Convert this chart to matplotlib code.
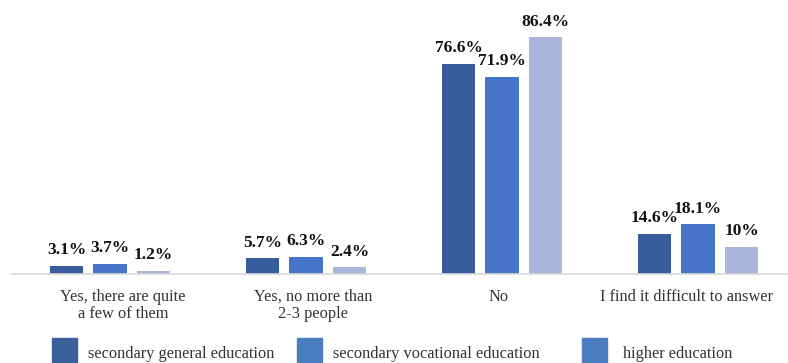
import matplotlib.pyplot as plt
from matplotlib.patches import Rectangle
from matplotlib.transforms import ScaledTranslation
import numpy as np

categories = ['Yes, there are quite\na few of them', 'Yes, no more than\n2-3 people', 'No',
              'I find it difficult to answer']
series_names = ['secondary general education', 'secondary vocational education', 'higher education']
general = [3.1, 5.7, 76.6, 14.6]
vocational = [3.7, 6.3, 71.9, 18.1]
higher = [1.2, 2.4, 86.4, 10.0]
value_labels = [
    ['3.1%', '5.7%', '76.6%', '14.6%'],
    ['3.7%', '6.3%', '71.9%', '18.1%'],
    ['1.2%', '2.4%', '86.4%', '10%'],
]

bar_colors = ['#375d9c', '#4674c8', '#a8b6dc']
legend_colors = ['#3b5f9a', '#4a7ec0', '#4a7ec0']

plt.rcParams['font.family'] = 'Liberation Serif'

fig = plt.figure(figsize=(7.88, 3.63), dpi=100)
ax = fig.add_axes([12 / 788, 89 / 363, 776 / 788, 274 / 363])

x = np.arange(len(categories))
width = 0.173
step = 0.222

for i, values in enumerate([general, vocational, higher]):
    bars = ax.bar(x + (i - 1) * step, values, width, color=bar_colors[i])
    for bar, lab in zip(bars, value_labels[i]):
        ax.annotate(lab, (bar.get_x() + bar.get_width() / 2, bar.get_height()),
                    xytext=(0, 5.5), textcoords='offset points', ha='center', va='bottom',
                    fontsize=12.5, fontweight='bold', color='#111111')

ax.set_xlim(-0.5, -0.5 + 776 / 196)
ax.set_ylim(0, 100)
ax.set_yticks([])
ax.set_xticks(x)
ax.set_xticklabels(categories, fontsize=11.8, color='#333333', linespacing=1.15)
ax.tick_params(axis='x', length=0, pad=10.5)
for side in ['top', 'right', 'left']:
    ax.spines[side].set_visible(False)
ax.spines['bottom'].set_color('#d9d9d9')
ax.spines['bottom'].set_linewidth(1.2)

# nudge labels so the long ones stay inside the figure
shifts = [13, 7, -3, -12]
for lab, dx in zip(ax.get_xticklabels(), shifts):
    lab.set_transform(lab.get_transform() + ScaledTranslation(dx / 100, 0, fig.dpi_scale_trans))

# legend drawn by hand along the bottom edge
patch_x = [52, 297, 582]
text_x = [88, 333, 623]
for px, tx, col, name in zip(patch_x, text_x, legend_colors, series_names):
    fig.patches.append(Rectangle((px / 788, 0), 25 / 788, 25 / 363, transform=fig.transFigure,
                                 color=col))
    fig.text(tx / 788, 9 / 363, name, fontsize=11.8, color='#333333', va='center')

fig.savefig('out.png', dpi=100, facecolor='white')
